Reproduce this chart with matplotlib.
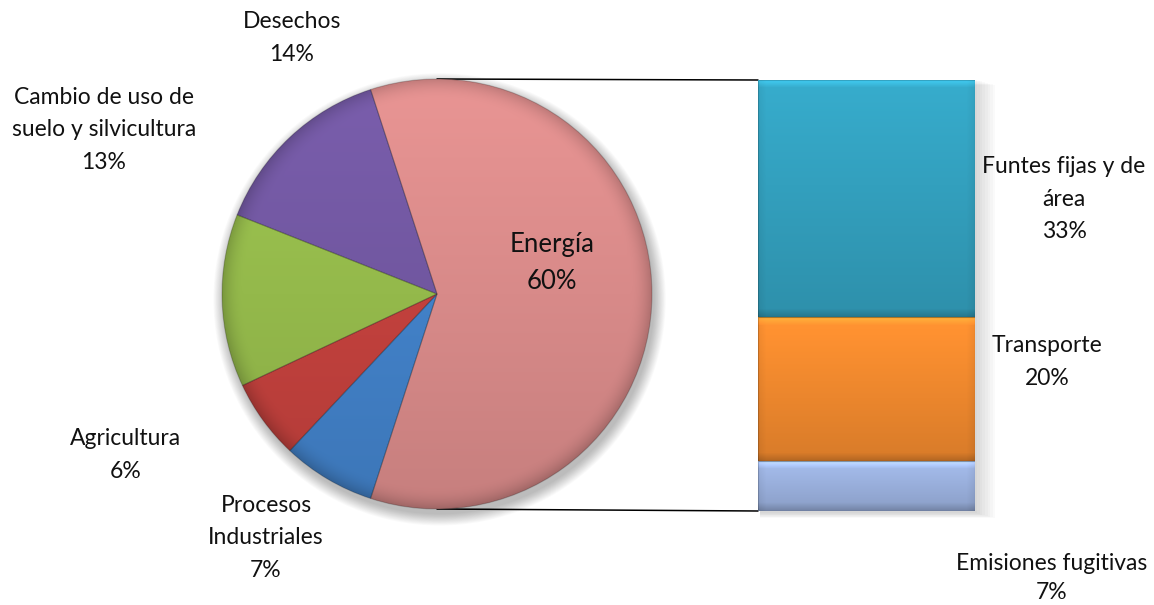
import numpy as np
import matplotlib.pyplot as plt
import matplotlib.colors as mcolors
from matplotlib.patches import ConnectionPatch, Circle

# emisiones por sector (%)
sectores = ['Energía', 'Desechos', 'Cambio de uso de\nsuelo y silvicultura',
            'Agricultura', 'Procesos\nIndustriales']
valores = [60, 14, 13, 6, 7]
colores_pie = ['#D88A89', '#7157A0', '#94B94B', '#C2413D', '#4281C8']

# desglose de Energía (de abajo hacia arriba)
sub_sectores = ['Emisiones fugitivas', 'Transporte', 'Funtes fijas y de\nárea']
sub_valores = [7, 20, 33]
colores_bar = ['#9AB0DD', '#F0892E', '#33A0BE']

W, H = 1154, 605
plt.rcParams['font.family'] = ['Lato', 'DejaVu Sans']
fig = plt.figure(figsize=(W / 100, H / 100), dpi=100)

def px(x, y):
    return x / W, 1 - y / H

# --- pie ---
cx, cy, r = 437, 294, 215
ax1 = fig.add_axes([(cx - r) / W, (H - cy - r) / H, 2 * r / W, 2 * r / H])

# sombra suave bajo el circulo
for k in range(14):
    ax1.add_patch(Circle((0.012, -0.025), 1.0 + k * 0.004, color='k',
                         alpha=0.02, lw=0, zorder=0, clip_on=False))

start = -valores[0] / 100 * 360 / 2
wedges, _ = ax1.pie(valores, colors=colores_pie, startangle=start,
                    counterclock=True, radius=1.0,
                    wedgeprops=dict(linewidth=0.8, edgecolor='#00000030'))
ax1.set_xlim(-1, 1)
ax1.set_ylim(-1, 1)
ax1.set_aspect('equal')
ax1.axis('off')

gx, gy = np.meshgrid(np.linspace(-1, 1, 400), np.linspace(1, -1, 400))
rr = np.sqrt(gx ** 2 + gy ** 2)
shade = 1.0 + 0.08 * gy - 0.18 * np.clip((rr - 0.9) / 0.1, 0, 1) ** 2
for w, c in zip(wedges, colores_pie):
    rgb = np.array(mcolors.to_rgb(c))
    img = np.clip(rgb[None, None, :] * shade[:, :, None], 0, 1)
    im = ax1.imshow(img, extent=(-1, 1, -1, 1), origin='upper',
                    zorder=w.get_zorder() - 0.1, interpolation='bilinear')
    im.set_clip_path(w)
    w.set_facecolor('none')
ax1.set_xlim(-1, 1)
ax1.set_ylim(-1, 1)

# --- barra apilada ---
bx0, bx1, by0, by1 = 758, 975, 80, 511
ax2 = fig.add_axes([bx0 / W, (H - by1) / H, (bx1 - bx0) / W, (by1 - by0) / H])
total = sum(sub_valores)

# sombra
for k in range(8):
    ax2.add_patch(plt.Rectangle((-0.49, -0.3 - k * 0.1), 1.0 + k * 0.012,
                                total + 0.3, color='k', alpha=0.02, lw=0,
                                zorder=0, clip_on=False))

bottoms = np.concatenate([[0], np.cumsum(sub_valores)[:-1]])
bars = ax2.bar(0, sub_valores, width=1.0, bottom=bottoms, color=colores_bar,
               edgecolor='#00000030', linewidth=0.8)
ax2.set_xlim(-0.5, 0.5)
ax2.set_ylim(0, total)
ax2.axis('off')

scale = (by1 - by0) / total
bev = 8
for rect, c in zip(bars, colores_bar):
    hpx = int(round(rect.get_height() * scale))
    wpx = bx1 - bx0
    yy, xx = np.mgrid[0:hpx, 0:wpx]
    t = yy / max(hpx - 1, 1)
    f = 1.08 - 0.18 * t
    f = f + 0.22 * np.clip(1 - yy / bev, 0, 1)
    f = f - 0.15 * np.clip(1 - (hpx - 1 - yy) / bev, 0, 1)
    f = f - 0.06 * np.clip(1 - np.minimum(xx, wpx - 1 - xx) / bev, 0, 1)
    rgb = np.array(mcolors.to_rgb(c))
    img = np.clip(rgb[None, None, :] * f[:, :, None], 0, 1)
    x0, y0 = rect.get_x(), rect.get_y()
    im = ax2.imshow(img, extent=(x0, x0 + rect.get_width(), y0, y0 + rect.get_height()),
                    origin='upper', aspect='auto', zorder=rect.get_zorder() - 0.1,
                    interpolation='bilinear')
    im.set_clip_path(rect)
    rect.set_facecolor('none')
ax2.set_xlim(-0.5, 0.5)
ax2.set_ylim(0, total)

# lineas de conexion: de los extremos del circulo a las esquinas de la barra
for yp, yb in [(1, total), (-1, 0)]:
    con = ConnectionPatch(xyA=(0, yp), coordsA=ax1.transData,
                          xyB=(-0.5, yb), coordsB=ax2.transData,
                          color='black', lw=1.1, zorder=0)
    fig.add_artist(con)

# --- etiquetas ---
fs = 16.5
ls = 1.65
etiquetas = [
    ('Desechos\n14%', 292, 38, ls),
    ('Cambio de uso de\nsuelo y silvicultura\n13%', 104, 130, ls),
    ('Agricultura\n6%', 126, 455, ls),
    ('Procesos\nIndustriales\n7%', 266, 538, ls),
    ('Funtes fijas y de\nárea\n33%', 1064, 199, ls),
    ('Transporte\n20%', 1047, 362, ls),
    ('Emisiones fugitivas\n7%', 1052, 578, 1.5),
]
for txt, x, y, lsp in etiquetas:
    fig.text(*px(x, y), txt, ha='center', va='center', fontsize=fs,
             linespacing=lsp, color='#111111')
fig.text(*px(552, 263), 'Energía\n60%', ha='center', va='center', fontsize=18.5,
         linespacing=1.6, color='#111111')

fig.savefig('out.png', dpi=100)
